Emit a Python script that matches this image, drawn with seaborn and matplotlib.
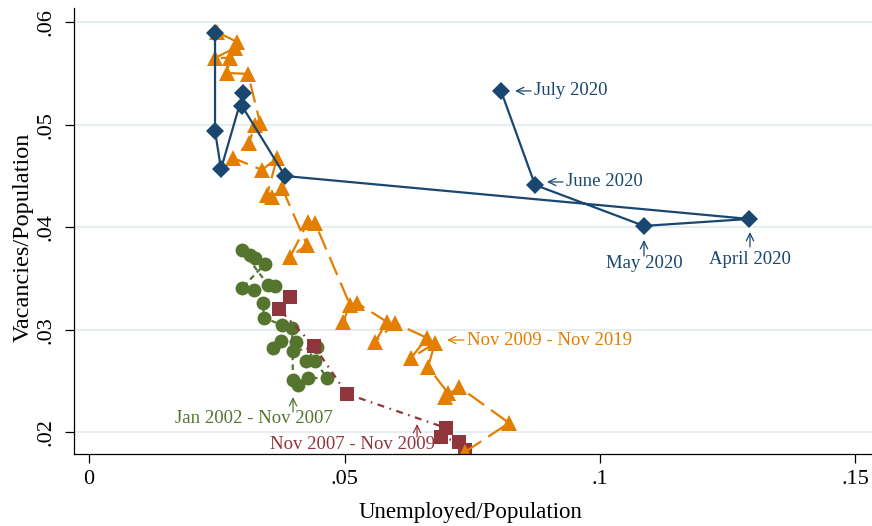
import matplotlib
matplotlib.use("Agg")
import matplotlib.pyplot as plt
import pandas as pd
import seaborn as sns

# Unemployed/Population (u) and Vacancies/Population (v), by episode
green_u = [0.03601, 0.03757, 0.04051, 0.03992, 0.04462, 0.04247, 0.04423, 0.04658,
           0.04286, 0.04090, 0.03992, 0.03973, 0.03777, 0.03425, 0.03405, 0.03229,
           0.02994, 0.03444, 0.03249, 0.03151, 0.02994, 0.03503, 0.03640]
green_v = [0.02824, 0.02893, 0.02883, 0.02795, 0.02834, 0.02698, 0.02698, 0.02532,
           0.02532, 0.02463, 0.02512, 0.03020, 0.03049, 0.03117, 0.03263, 0.03390,
           0.03410, 0.03644, 0.03702, 0.03732, 0.03780, 0.03439, 0.03429]

red_u = [0.03933, 0.03718, 0.04403, 0.05049, 0.06986, 0.06888, 0.07241, 0.07358]
red_v = [0.03322, 0.03205, 0.02844, 0.02376, 0.02044, 0.01956, 0.01907, 0.01829]

orange_u = [0.07358, 0.08219, 0.07241, 0.06967, 0.07025, 0.06634, 0.06771, 0.06301,
            0.06614, 0.05988, 0.05597, 0.05832, 0.05245, 0.04971, 0.05108, 0.04423,
            0.04286, 0.03933, 0.04266, 0.03777, 0.03581, 0.03483, 0.03679, 0.03386,
            0.02818, 0.03131, 0.03249, 0.03346, 0.03112, 0.02701, 0.02759, 0.02466,
            0.02857, 0.02896, 0.02505]
orange_v = [0.01810, 0.02093, 0.02444, 0.02346, 0.02385, 0.02639, 0.02873, 0.02727,
            0.02922, 0.03068, 0.02883, 0.03078, 0.03263, 0.03078, 0.03244, 0.04044,
            0.04054, 0.03712, 0.03829, 0.04385, 0.04298, 0.04317, 0.04678, 0.04561,
            0.04678, 0.04824, 0.05000, 0.05020, 0.05498, 0.05507, 0.05654, 0.05654,
            0.05751, 0.05810, 0.05907]

blue_u = [0.02466, 0.02466, 0.02583, 0.03014, 0.02994, 0.03836,
          0.12916, 0.10861, 0.08728, 0.08063]
blue_v = [0.05898, 0.04941, 0.04571, 0.05312, 0.05185, 0.04502,
          0.04083, 0.04015, 0.04415, 0.05332]

x_ticks = [0, 0.05, 0.10, 0.15]
x_tick_labels = ["0", ".05", ".1", ".15"]
y_ticks = [0.02, 0.03, 0.04, 0.05, 0.06]
y_tick_labels = [".02", ".03", ".04", ".05", ".06"]

NAVY = "#1A476F"
MAROON = "#90353B"
FOREST = "#55752F"
DKORANGE = "#E37E00"

sns.set_theme(style="white")
plt.rcParams["font.family"] = ["Liberation Serif", "DejaVu Serif"]
plt.rcParams["lines.scale_dashes"] = False

fig = plt.figure(figsize=(8.72, 5.26), dpi=100)
ax = fig.add_axes([74 / 872, 1 - 454 / 526, 798 / 872, 446 / 526])

series = [
    (green_u, green_v, FOREST, "o", 10.0, (0, (4, 3))),
    (red_u, red_v, MAROON, "s", 9.5, (0, (5, 4, 1.2, 4))),
    (orange_u, orange_v, DKORANGE, "^", 11.5, (0, (14, 6))),
    (blue_u, blue_v, NAVY, "D", 8.8, "-"),
]
for u, v, col, mk, ms, ls in series:
    df = pd.DataFrame({"u": u, "v": v})
    sns.lineplot(data=df, x="u", y="v", sort=False, estimator=None, ax=ax,
                 color=col, marker=mk, markersize=ms, markeredgewidth=0,
                 linestyle=ls, linewidth=1.6)

ax.set_xlim(-0.00294, 0.15323)
ax.set_ylim(0.0179, 0.06141)
ax.set_xticks(x_ticks)
ax.set_xticklabels(x_tick_labels)
ax.set_yticks(y_ticks)
ax.set_yticklabels(y_tick_labels, rotation=90, va="center")

ax.yaxis.grid(True, color="#E5EDF0", linewidth=1.3)
ax.xaxis.grid(False)
ax.set_axisbelow(True)

for side in ("top", "right"):
    ax.spines[side].set_visible(False)
for side in ("left", "bottom"):
    ax.spines[side].set_color("black")
    ax.spines[side].set_linewidth(0.9)

ax.tick_params(axis="both", which="major", bottom=True, left=True,
               direction="out", length=6.5, width=0.9, color="black",
               labelsize=16, labelcolor="black")
ax.tick_params(axis="x", pad=5)
ax.tick_params(axis="y", pad=7)

ax.set_xlabel("Unemployed/Population", fontsize=16.5, color="black")
ax.set_ylabel("Vacancies/Population", fontsize=17.5, color="black")
ax.xaxis.set_label_coords(0.497, -0.108)
ax.yaxis.set_label_coords(-0.050, 0.485)

ANN_SIZE = 13.5


def arrow(head, tail, color):
    ax.annotate("", xy=head, xytext=tail,
                arrowprops=dict(arrowstyle="->,head_length=0.45,head_width=0.22",
                                color=color, lw=0.9, shrinkA=0, shrinkB=0))


# 2020 months
arrow((0.08337, 0.05332), (0.08650, 0.05332), NAVY)
ax.text(0.08708, 0.05332, "July 2020", color=NAVY, fontsize=ANN_SIZE,
        ha="left", va="center")
arrow((0.08963, 0.04444), (0.09276, 0.04444), NAVY)
ax.text(0.09335, 0.04444, "June 2020", color=NAVY, fontsize=ANN_SIZE,
        ha="left", va="center")
arrow((0.10861, 0.03878), (0.10861, 0.03722), NAVY)
ax.text(0.10861, 0.03644, "May 2020", color=NAVY, fontsize=ANN_SIZE,
        ha="center", va="center")
arrow((0.12935, 0.03956), (0.12935, 0.03810), NAVY)
ax.text(0.12935, 0.03683, "April 2020", color=NAVY, fontsize=ANN_SIZE,
        ha="center", va="center")

# Episode labels
arrow((0.07006, 0.02902), (0.07339, 0.02902), DKORANGE)
ax.text(0.07397, 0.02902, "Nov 2009 - Nov 2019", color=DKORANGE,
        fontsize=ANN_SIZE, ha="left", va="center")
arrow((0.03992, 0.02346), (0.03992, 0.02200), FOREST)
ax.text(0.03219, 0.02141, "Jan 2002 - Nov 2007", color=FOREST,
        fontsize=ANN_SIZE, ha="center", va="center")
arrow((0.06419, 0.02083), (0.06419, 0.01956), MAROON)
ax.text(0.05147, 0.01878, "Nov 2007 - Nov 2009", color=MAROON,
        fontsize=ANN_SIZE, ha="center", va="center")

fig.savefig("out.png", dpi=100, facecolor="white")
